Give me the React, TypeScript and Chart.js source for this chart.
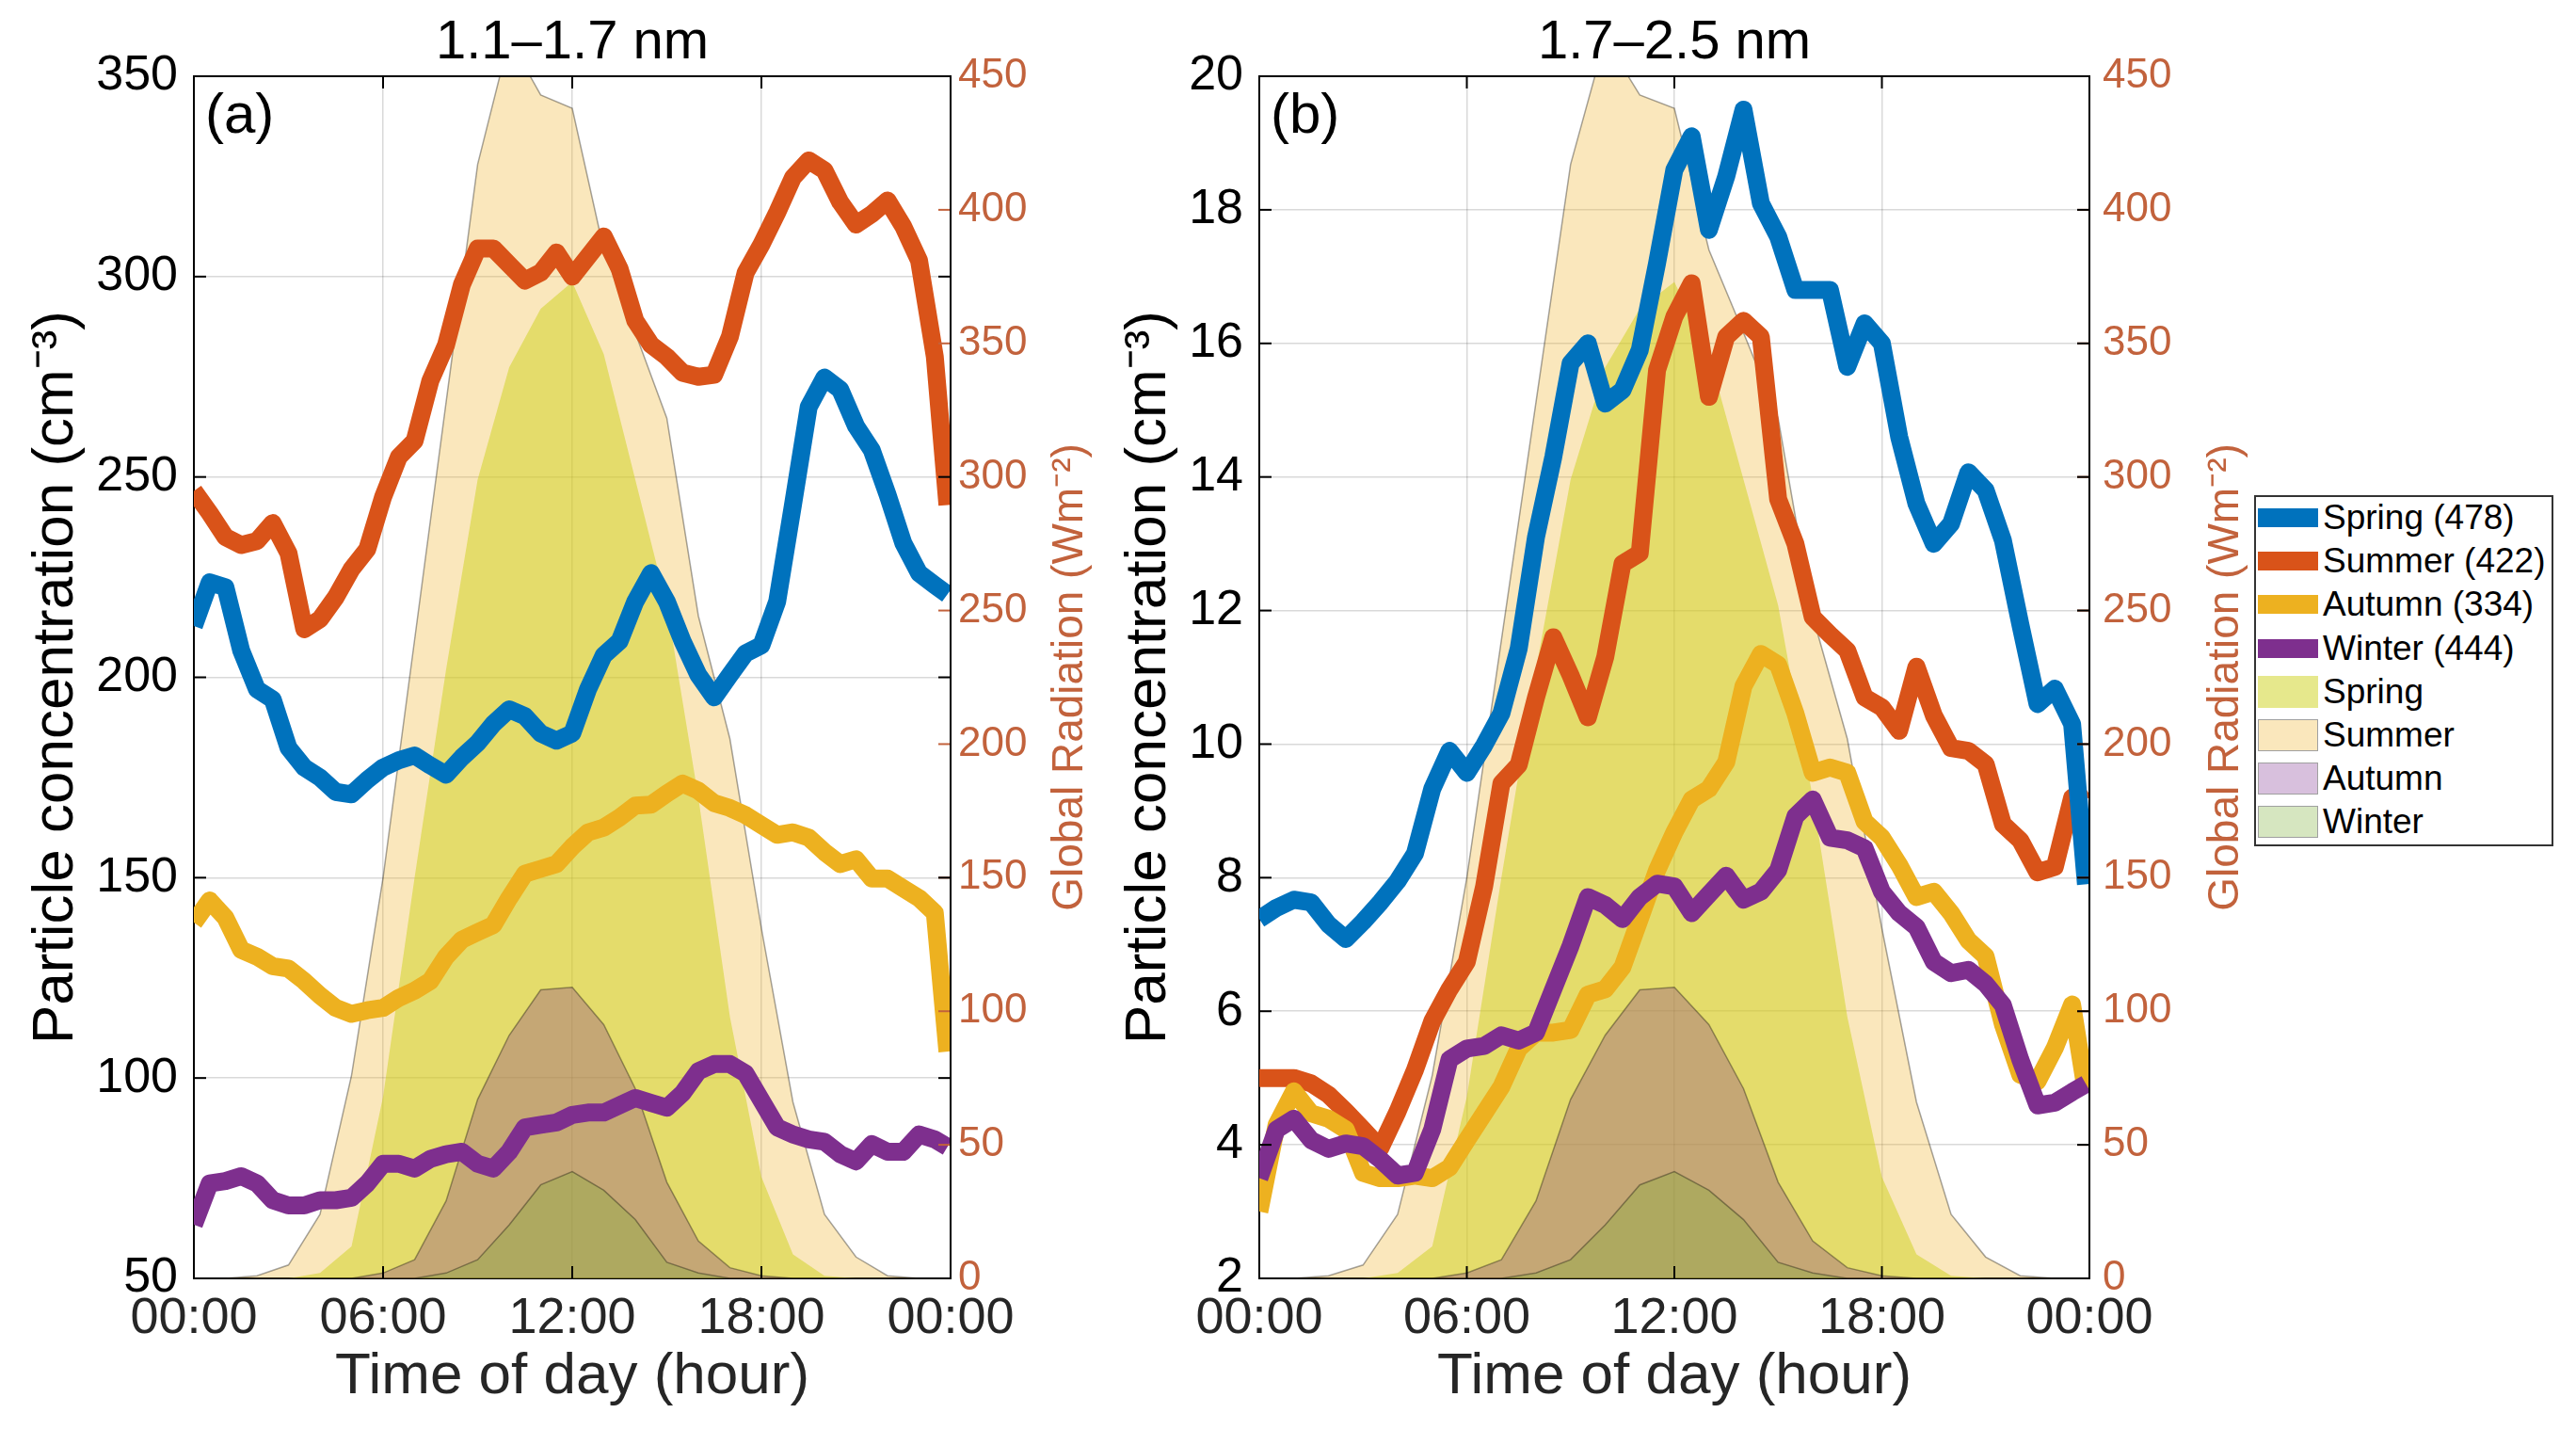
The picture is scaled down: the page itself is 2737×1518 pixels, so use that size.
"use client"

import { useEffect, useRef } from "react"
import { Chart, registerables } from "chart.js"

// Register Chart.js components
Chart.register(...registerables)

const FONT = '"Liberation Sans", Arial, Helvetica, sans-serif'
Chart.defaults.font.family = FONT

const SEASONS = ["Spring", "Summer", "Autumn", "Winter"]
const EVENT_COUNTS = [478, 422, 334, 444]
const LINE_COLORS = ["#0072BD", "#D95319", "#EDB120", "#7E2F8E"]
const AREA_COLORS = [
  "rgba(205, 210, 25, 0.5)", // Spring
  "rgba(237, 177, 32, 0.3)", // Summer
  "rgba(126, 47, 142, 0.3)", // Autumn
  "rgba(119, 172, 48, 0.3)", // Winter
]
const AREA_EDGE_WIDTHS = [0, 1.5, 1.5, 1.5]
const RAD_COLOR = "#c2623c"

const X_TICK_LABELS = ["00:00", "06:00", "12:00", "18:00", "00:00"]

// time of day (hours) of the particle concentration samples
const TIMES = [
  0, 0.5, 1, 1.5, 2, 2.5, 3, 3.5, 4, 4.5,
  5, 5.5, 6, 6.5, 7, 7.5, 8, 8.5, 9, 9.5,
  10, 10.5, 11, 11.5, 12, 12.5, 13, 13.5, 14, 14.5,
  15, 15.5, 16, 16.5, 17, 17.5, 18, 18.5, 19, 19.5,
  20, 20.5, 21, 21.5, 22, 22.5, 23, 23.5, 23.9,
]

// hourly global radiation (W m-2)
const RAD_HOURS = [0, 1, 2, 3, 4, 5, 6, 7, 8, 9, 10, 11, 12, 13, 14, 15, 16, 17, 18, 19, 20, 21, 22, 23]
const RAD_SPRING = [0, 0, 0, 0, 2, 12, 68, 150, 228, 299, 341, 363, 373, 346, 299, 252, 180, 98, 38, 9, 1, 0, 0, 0]
const RAD_SUMMER = [0, 0, 1, 5, 24, 76, 150, 239, 328, 417, 464, 443, 438, 385, 354, 322, 248, 202, 131, 66, 24, 8, 1, 0]
const RAD_AUTUMN = [0, 0, 0, 0, 0, 0, 2, 7, 29, 67, 91, 108, 109, 95, 71, 36, 14, 4, 1, 0, 0, 0, 0, 0]
const RAD_WINTER = [0, 0, 0, 0, 0, 0, 0, 0, 2, 7, 20, 35, 40, 33, 22, 6, 2, 0, 0, 0, 0, 0, 0, 0]

// (a) 1.1-1.7 nm particle concentration (cm-3)
const A_SPRING = [
  212.8, 223.7, 222.5, 206.7, 197, 194.5, 182.4, 177.5, 175, 171.4,
  170.8, 174.4, 177.5, 179.3, 180.5, 178, 175.7, 180, 183.6, 188.4,
  192, 190.3, 186, 184.2, 186, 197, 205.5, 209, 218.9, 226,
  218.9, 209, 200.6, 195, 200.6, 206, 208, 218.9, 243, 267.5,
  274.8, 271.8, 262.7, 256.7, 245.6, 233.5, 226, 223, 220.7,
]
const A_SUMMER = [
  246.5, 241, 235, 233, 234, 238.5, 231, 212, 214.5, 220,
  227, 232, 245, 255, 259, 274, 283, 298, 307, 307,
  303, 299, 301, 306, 300, 305, 310, 302, 289, 283,
  280, 276, 275, 275.5, 285, 301, 308, 316, 324.7, 329,
  326.5, 318.6, 313, 315.6, 319, 312.5, 304, 280, 243,
]
const A_AUTUMN = [
  138.8, 144.3, 140, 132, 130.3, 127.9, 127.3, 124.2, 120.6, 117.5,
  116, 116.9, 117.5, 120, 121.8, 124.2, 130.3, 134.5, 136.4, 138.2,
  144.9, 151, 152.2, 153.4, 157.7, 161.3, 162.5, 165, 168, 168.2,
  171, 173.5, 171.7, 168.6, 167.4, 165.6, 163.1, 160.7, 161.3, 160,
  156.4, 153.4, 154.6, 149.8, 149.8, 147.3, 144.9, 141.2, 106.6,
]
const A_WINTER = [
  63.4, 73.7, 74.3, 75.5, 73.7, 69.5, 68.2, 68.2, 69.5, 69.5,
  70.1, 73.7, 78.6, 78.6, 77.4, 79.8, 81, 81.6, 78.6, 77.4,
  81.6, 87.7, 88.3, 88.9, 90.8, 91.4, 91.4, 93.2, 95, 93.8,
  92.6, 96.2, 101.7, 103.5, 103.5, 101.1, 94.4, 87.7, 85.9, 84.7,
  84.1, 81, 79.2, 83.5, 81.6, 81.6, 85.9, 84.7, 82.8,
]

// (b) 1.7-2.5 nm particle concentration (cm-3)
const B_SPRING = [
  7.38, 7.55, 7.67, 7.63, 7.3, 7.08, 7.34, 7.63, 7.95, 8.36,
  9.33, 9.9, 9.57, 9.98, 10.46, 11.43, 13.1, 14.3, 15.7, 16.0,
  15.1, 15.3, 15.9, 17.2, 18.6, 19.1, 17.7, 18.5, 19.5, 18.1,
  17.6, 16.8, 16.8, 16.8, 15.65, 16.3, 16.0, 14.6, 13.6, 13.0,
  13.3, 14.07, 13.8, 13.05, 11.8, 10.6, 10.83, 10.3, 7.9,
]
const B_SUMMER = [
  5.0, 5.0, 5.0, 4.92, 4.75, 4.5, 4.23, 3.95, 4.5, 5.12,
  5.85, 6.33, 6.74, 7.87, 9.41, 9.69, 10.7, 11.6, 11.03, 10.4,
  11.3, 12.7, 12.86, 15.6, 16.4, 16.9, 15.2, 16.1, 16.34, 16.1,
  13.67, 13.0, 11.9, 11.64, 11.4, 10.7, 10.55, 10.2, 11.16, 10.43,
  9.94, 9.9, 9.7, 8.8, 8.56, 8.08, 8.16, 9.2, 9.33,
]
const B_AUTUMN = [
  3.0, 4.3, 4.8, 4.47, 4.39, 4.23, 3.58, 3.5, 3.5, 3.54,
  3.5, 3.66, 4.07, 4.47, 4.87, 5.44, 5.68, 5.68, 5.72, 6.25,
  6.33, 6.66, 7.38, 8.11, 8.68, 9.17, 9.33, 9.73, 10.87, 11.35,
  11.19, 10.46, 9.57, 9.65, 9.57, 8.84, 8.6, 8.19, 7.71, 7.79,
  7.47, 7.06, 6.82, 5.8, 5.05, 4.95, 5.45, 6.1, 4.8,
]
const B_WINTER = [
  3.5, 4.23, 4.39, 4.07, 3.94, 4.02, 3.98, 3.78, 3.54, 3.58,
  4.23, 5.28, 5.44, 5.48, 5.64, 5.56, 5.68, 6.33, 6.98, 7.71,
  7.59, 7.38, 7.71, 7.91, 7.87, 7.47, 7.75, 8.03, 7.67, 7.79,
  8.11, 8.92, 9.17, 8.6, 8.56, 8.44, 7.79, 7.47, 7.26, 6.74,
  6.57, 6.62, 6.41, 6.09, 5.28, 4.59, 4.63, 4.79, 4.91,
]

const RAD_SERIES = [RAD_SPRING, RAD_SUMMER, RAD_AUTUMN, RAD_WINTER]

const H = 1518
const TOP = 81
const BOTTOM = 1358

// axis decorations MATLAB style: box, inward ticks, panel title, tag, right label
const decor = {
  id: "decor",
  afterDraw(chart: any, _args: any, opts: any) {
    const { ctx, chartArea: a, scales } = chart
    const T = 13
    const seg = (x1: number, y1: number, x2: number, y2: number) => {
      ctx.beginPath()
      ctx.moveTo(x1, y1)
      ctx.lineTo(x2, y2)
      ctx.stroke()
    }
    ctx.save()
    ctx.lineWidth = 2
    ctx.strokeStyle = RAD_COLOR
    scales.y2.ticks.forEach((t: any) => {
      const p = scales.y2.getPixelForValue(t.value)
      seg(a.right - T, p, a.right, p)
    })
    ctx.strokeStyle = "#000"
    seg(a.left, a.top, a.right, a.top)
    seg(a.right, a.top, a.right, a.bottom)
    scales.y.ticks.forEach((t: any) => {
      const p = scales.y.getPixelForValue(t.value)
      seg(a.left, p, a.left + T, p)
      seg(a.right - T, p, a.right, p)
    })
    scales.x.ticks.forEach((t: any) => {
      const p = scales.x.getPixelForValue(t.value)
      seg(p, a.bottom, p, a.bottom - T)
      seg(p, a.top, p, a.top + T)
    })

    ctx.fillStyle = "#000"
    ctx.font = `58px ${FONT}`
    ctx.textAlign = "center"
    ctx.textBaseline = "middle"
    ctx.fillText(opts.title, (a.left + a.right) / 2, 46)

    ctx.font = `60px ${FONT}`
    ctx.textAlign = "left"
    ctx.textBaseline = "alphabetic"
    ctx.fillText(opts.tag, a.left + 12, 141)

    ctx.translate(a.right + opts.rightTitleOffset, (a.top + a.bottom) / 2)
    ctx.rotate(-Math.PI / 2)
    ctx.fillStyle = RAD_COLOR
    ctx.font = `46px ${FONT}`
    ctx.textAlign = "center"
    ctx.textBaseline = "middle"
    ctx.fillText("Global Radiation (Wm\u207B\u00B2)", 0, 0)
    ctx.restore()
  },
}

type PanelProps = {
  left: number
  width: number
  axisLeft: number
  axisRight: number
  title: string
  tag: string
  yMin: number
  yMax: number
  yStep: number
  series: number[][]
  rightPad: number
  rightTitleOffset: number
}

function Panel(p: PanelProps) {
  const chartRef = useRef<HTMLCanvasElement>(null)
  const chartInstance = useRef<Chart | null>(null)

  useEffect(() => {
    if (!chartRef.current) return
    if (chartInstance.current) chartInstance.current.destroy()
    const ctx = chartRef.current.getContext("2d")
    if (!ctx) return

    const gridColor = "rgba(0, 0, 0, 0.15)"
    // lines: winter on top, summer area at the very bottom
    const lineOrder = [2, 3, 1, 0]
    const datasets: any[] = []
    p.series.forEach((vals, i) => {
      datasets.push({
        label: `${SEASONS[i]} (${EVENT_COUNTS[i]})`,
        data: TIMES.map((t, j) => ({ x: t, y: vals[j] })),
        yAxisID: "y",
        borderColor: LINE_COLORS[i],
        borderWidth: 19,
        borderJoinStyle: "round",
        pointRadius: 0,
        fill: false,
        tension: 0,
        order: lineOrder[i],
      })
    })
    const areaOrder = [6, 7, 5, 4]
    RAD_SERIES.forEach((vals, i) => {
      datasets.push({
        label: SEASONS[i],
        data: RAD_HOURS.map((h, j) => ({ x: h, y: vals[j] })),
        yAxisID: "y2",
        backgroundColor: AREA_COLORS[i],
        borderColor: "rgba(0, 0, 0, 0.35)",
        borderWidth: AREA_EDGE_WIDTHS[i],
        pointRadius: 0,
        fill: "origin",
        tension: 0,
        order: areaOrder[i],
      })
    })

    chartInstance.current = new Chart(ctx, {
      type: "line",
      data: { datasets },
      plugins: [decor],
      options: {
        animation: false,
        responsive: false,
        devicePixelRatio: 1,
        layout: { padding: { top: TOP, left: 0, right: 0, bottom: 0 } },
        plugins: {
          legend: { display: false },
          title: { display: false },
          tooltip: { enabled: false },
          decor: { title: p.title, tag: p.tag, rightTitleOffset: p.rightTitleOffset },
        } as any,
        scales: {
          x: {
            type: "linear",
            min: 0,
            max: 24,
            position: "bottom",
            ticks: {
              stepSize: 6,
              autoSkip: false,
              maxRotation: 0,
              padding: 11,
              color: "#262626",
              font: { size: 54 },
              callback: (v: any) => X_TICK_LABELS[Math.round(Number(v) / 6)],
            },
            grid: { color: gridColor, lineWidth: 1.5, drawTicks: false },
            border: { color: "#000", width: 2 },
            title: {
              display: true,
              text: "Time of day (hour)",
              color: "#262626",
              font: { size: 62 },
              padding: { top: 0, bottom: 18 },
            },
            afterFit: (s: any) => {
              s.height = H - BOTTOM
            },
          },
          y: {
            type: "linear",
            position: "left",
            min: p.yMin,
            max: p.yMax,
            ticks: { stepSize: p.yStep, autoSkip: false, padding: 17, color: "#000", font: { size: 52 } },
            grid: { color: gridColor, lineWidth: 1.5, drawTicks: false },
            border: { color: "#000", width: 2 },
            title: {
              display: true,
              text: "Particle concentration (cm\u207B\u00B3)",
              color: "#000",
              font: { size: 62 },
              padding: { top: 23, bottom: 0 },
            },
            afterFit: (s: any) => {
              s.width = p.axisLeft
            },
          },
          y2: {
            type: "linear",
            position: "right",
            min: 0,
            max: 450,
            ticks: { stepSize: 50, autoSkip: false, padding: p.rightPad, color: RAD_COLOR, font: { size: 44 } },
            grid: { display: true, drawOnChartArea: false, drawTicks: false },
            border: { color: "#000", width: 2 },
            afterFit: (s: any) => {
              s.width = p.axisRight
            },
          },
        },
      } as any,
    })

    return () => {
      if (chartInstance.current) {
        chartInstance.current.destroy()
        chartInstance.current = null
      }
    }
  }, [])

  return (
    <canvas
      ref={chartRef}
      width={p.width}
      height={H}
      style={{ position: "absolute", left: p.left, top: 0, width: p.width, height: H }}
    />
  )
}

function Legend() {
  const items = [
    ...SEASONS.map((s, i) => ({ text: `${s} (${EVENT_COUNTS[i]})`, color: LINE_COLORS[i], area: false, edge: 0 })),
    ...SEASONS.map((s, i) => ({ text: s, color: AREA_COLORS[i], area: true, edge: AREA_EDGE_WIDTHS[i] })),
  ]
  return (
    <div
      style={{
        position: "absolute",
        left: 2395,
        top: 526,
        width: 318,
        height: 373,
        boxSizing: "border-box",
        border: "2px solid #333",
        background: "#fff",
        fontFamily: FONT,
      }}
    >
      {items.map((it, i) => (
        <div
          key={i}
          style={{
            position: "absolute",
            left: 2,
            top: 22 + i * 46.2 - 23,
            height: 46,
            display: "flex",
            alignItems: "center",
            whiteSpace: "nowrap",
          }}
        >
          <div
            style={{
              width: 64,
              height: it.area ? 34 : 20,
              boxSizing: "border-box",
              background: it.color,
              border: it.edge ? "1.5px solid #a0a0a0" : "none",
            }}
          />
          <span style={{ marginLeft: 5, fontSize: 37, color: "#000", lineHeight: "46px" }}>{it.text}</span>
        </div>
      ))}
    </div>
  )
}

export default function App() {
  return (
    <div
      style={{
        position: "fixed",
        left: 0,
        top: 0,
        width: 2737,
        height: H,
        background: "#fff",
        overflow: "hidden",
      }}
    >
      <Panel
        left={0}
        width={1161}
        axisLeft={206}
        axisRight={151}
        title={"1.1\u20131.7 nm"}
        tag="(a)"
        yMin={50}
        yMax={350}
        yStep={50}
        series={[A_SPRING, A_SUMMER, A_AUTUMN, A_WINTER]}
        rightPad={8}
        rightTitleOffset={127}
      />
      <Panel
        left={1161}
        width={1229}
        axisLeft={177}
        axisRight={170}
        title={"1.7\u20132.5 nm"}
        tag="(b)"
        yMin={2}
        yMax={20}
        yStep={2}
        series={[B_SPRING, B_SUMMER, B_AUTUMN, B_WINTER]}
        rightPad={14}
        rightTitleOffset={145}
      />
      <Legend />
    </div>
  )
}
